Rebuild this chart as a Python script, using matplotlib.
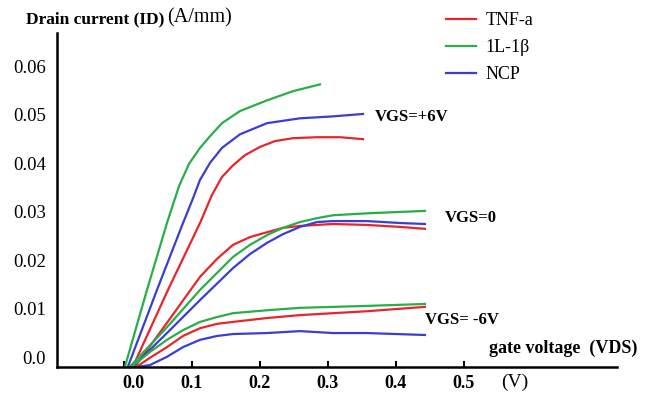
import matplotlib
matplotlib.use("Agg")
import matplotlib.pyplot as plt
from matplotlib.transforms import ScaledTranslation

plt.rcParams["font.family"] = ["Liberation Serif", "DejaVu Serif"]

# ================================
# Data (VDS in V, ID in A/mm)
# ================================
# VGS = +6V
tnf_p6_x = [0.0132, 0.0647, 0.1118, 0.1294, 0.1441, 0.1603, 0.1779, 0.2000, 0.2221, 0.2485, 0.2838, 0.3176, 0.3515]
tnf_p6_y = [0.0, 0.0158, 0.0296, 0.0354, 0.0391, 0.0415, 0.0436, 0.0453, 0.0465, 0.0471, 0.0473, 0.0473, 0.0469]
il_p6_x = [0.0015, 0.0338, 0.0632, 0.0809, 0.0956, 0.1118, 0.1265, 0.1441, 0.1706, 0.2103, 0.2485, 0.2882]
il_p6_y = [0.0, 0.0158, 0.0296, 0.0372, 0.0418, 0.0451, 0.0475, 0.0502, 0.0527, 0.0549, 0.0568, 0.0582]
ncp_p6_x = [0.0059, 0.0485, 0.0868, 0.1015, 0.1118, 0.1265, 0.1441, 0.1706, 0.2103, 0.2588, 0.3074, 0.3515]
ncp_p6_y = [0.0, 0.0158, 0.0296, 0.0347, 0.0385, 0.0420, 0.0451, 0.0479, 0.0502, 0.0512, 0.0516, 0.0521]

# VGS = 0
tnf_0_x = [0.0162, 0.0632, 0.1118, 0.1368, 0.1603, 0.1853, 0.2103, 0.2338, 0.2588, 0.3074, 0.3574, 0.4059, 0.4426]
tnf_0_y = [0.0, 0.0090, 0.0185, 0.0222, 0.0251, 0.0267, 0.0277, 0.0286, 0.0290, 0.0294, 0.0292, 0.0288, 0.0284]
il_0_x = [0.0088, 0.0632, 0.1118, 0.1603, 0.1853, 0.2103, 0.2338, 0.2588, 0.2838, 0.3074, 0.3574, 0.4426]
il_0_y = [0.0, 0.0081, 0.0158, 0.0226, 0.0251, 0.0271, 0.0286, 0.0298, 0.0306, 0.0312, 0.0316, 0.0321]
ncp_0_x = [0.0132, 0.0632, 0.1118, 0.1603, 0.1853, 0.2103, 0.2338, 0.2588, 0.2838, 0.3074, 0.3574, 0.4059, 0.4426]
ncp_0_y = [0.0, 0.0069, 0.0137, 0.0203, 0.0232, 0.0255, 0.0273, 0.0288, 0.0298, 0.0300, 0.0300, 0.0296, 0.0294]

# VGS = -6V
tnf_m6_x = [0.0191, 0.0382, 0.0632, 0.0868, 0.1118, 0.1368, 0.1603, 0.2103, 0.2588, 0.3074, 0.3574, 0.4426]
tnf_m6_y = [0.0, 0.0018, 0.0040, 0.0063, 0.0079, 0.0088, 0.0092, 0.0100, 0.0106, 0.0110, 0.0114, 0.0123]
il_m6_x = [0.0118, 0.0382, 0.0632, 0.0868, 0.1118, 0.1368, 0.1603, 0.2103, 0.2588, 0.3074, 0.3574, 0.4426]
il_m6_y = [0.0, 0.0030, 0.0055, 0.0075, 0.0092, 0.0102, 0.0110, 0.0116, 0.0121, 0.0123, 0.0125, 0.0129]
ncp_m6_x = [0.0235, 0.0382, 0.0632, 0.0868, 0.1118, 0.1368, 0.1603, 0.2103, 0.2588, 0.3074, 0.3574, 0.4426]
ncp_m6_y = [0.0, 0.0003, 0.0020, 0.0040, 0.0055, 0.0063, 0.0067, 0.0069, 0.0073, 0.0069, 0.0069, 0.0065]

x_ticks = [0.0, 0.1, 0.2, 0.3, 0.4, 0.5]
x_tick_labels = ["0.0", "0.1", "0.2", "0.3", "0.4", "0.5"]
y_ticks = [0.0, 0.01, 0.02, 0.03, 0.04, 0.05, 0.06]
y_tick_labels = ["0.0", "0.01", "0.02", "0.03", "0.04", "0.05", "0.06"]

RED = "#e8262a"
GREEN = "#2aae4a"
BLUE = "#3a3ed2"

# ================================
# Plot
# ================================
fig = plt.figure(figsize=(6.5, 3.94), dpi=100)
ax = fig.add_axes([57 / 650, 27.5 / 394, 560 / 650, 333.5 / 394])

lw = 1.6
ax.plot(tnf_p6_x, tnf_p6_y, color=RED, lw=lw, label="TNF-a")
ax.plot(il_p6_x, il_p6_y, color=GREEN, lw=lw, label="1L-1\u03b2")
ax.plot(ncp_p6_x, ncp_p6_y, color=BLUE, lw=lw, label="NCP")
ax.plot(tnf_0_x, tnf_0_y, color=RED, lw=lw)
ax.plot(il_0_x, il_0_y, color=GREEN, lw=lw)
ax.plot(ncp_0_x, ncp_0_y, color=BLUE, lw=lw)
ax.plot(tnf_m6_x, tnf_m6_y, color=RED, lw=lw)
ax.plot(il_m6_x, il_m6_y, color=GREEN, lw=lw)
ax.plot(ncp_m6_x, ncp_m6_y, color=BLUE, lw=lw)

ax.set_xlim(-0.0985, 0.725)
ax.set_ylim(0, 0.0688)

for side in ["top", "right"]:
    ax.spines[side].set_visible(False)
for side in ["left", "bottom"]:
    ax.spines[side].set_linewidth(1.8)

ax.set_xticks(x_ticks)
ax.set_xticklabels(x_tick_labels, fontsize=13, fontweight="bold")
ax.set_yticks(y_ticks)
ax.set_yticklabels(y_tick_labels, fontsize=13.5)
ax.tick_params(axis="x", direction="in", length=4, width=1.5, pad=6)
ax.tick_params(axis="y", length=0, pad=8)

# labels in the picture sit a little off their ticks
for lab in ax.get_yticklabels():
    lab.set_transform(lab.get_transform() + ScaledTranslation(0, 9.5 / 100, fig.dpi_scale_trans))
first = ax.get_xticklabels()[0]
first.set_transform(first.get_transform() + ScaledTranslation(9 / 100, 0, fig.dpi_scale_trans))

# axis titles
fig.text(26 / 650, 1 - 19 / 394, "Drain current (ID)", fontsize=12.5, fontweight="bold", va="center")
fig.text(167 / 650, 1 - 18 / 394, "(A/mm)", fontsize=14.5, va="center")
fig.text(515 / 650, 1 - 382 / 394, "(V)", fontsize=14, ha="center", va="center")
ax.text(0.537, 0.0038, "gate voltage  (VDS)", fontsize=13, fontweight="bold", va="center")

# curve group labels
ax.text(0.369, 0.0514, "VGS=+6V", fontsize=12, fontweight="bold", va="center")
ax.text(0.472, 0.0306, "VGS=0", fontsize=12, fontweight="bold", va="center")
ax.text(0.443, 0.0096, "VGS= -6V", fontsize=12, fontweight="bold", va="center")

ax.legend(loc="upper left", bbox_to_anchor=(446 / 650, 1 - 12 / 394),
          bbox_transform=fig.transFigure, frameon=False, fontsize=13,
          handlelength=1.65, handletextpad=0.55, labelspacing=0.55,
          borderpad=0, borderaxespad=0)

fig.savefig("out.png", dpi=100)
